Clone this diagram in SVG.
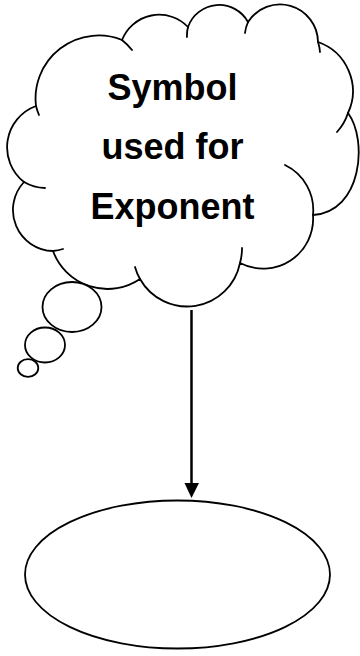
<svg xmlns="http://www.w3.org/2000/svg" width="360" height="656" viewBox="0 0 360 656">
<defs>
<style>
.ln{fill:none;stroke:#000;stroke-width:1.8;stroke-linecap:round}
.shape{fill:#fff;stroke:#000;stroke-width:1.8}
.lbl{font-family:"Liberation Sans",Arial,sans-serif;font-weight:bold;font-size:36px;fill:#000;text-anchor:middle}
</style>
<marker id="arrow" markerWidth="6" markerHeight="6" refX="6" refY="3" orient="auto" markerUnits="strokeWidth">
<path d="M0,0 L6,3 L0,6 Z" fill="#000"/>
</marker>
</defs>
<rect width="360" height="656" fill="#fff"/>
<g id="cloud">
<path class="shape" d="M36,106 A63,63 0 0 1 122,40 A40,40 0 0 1 188,27 A33,33 0 0 1 248,22 A38,38 0 0 1 318,42 A52,52 0 0 1 348,113 C368,140 362,212 313,215 A50,50 0 0 1 240,263 A54,54 0 0 1 140,279 A58,58 0 0 1 53,251 A41,41 0 0 1 24,182 A44,44 0 0 1 36,106 Z"/>
<path class="ln" d="M39,115 A63,63 0 0 1 36,106 M122,40 A63,63 0 0 1 132,50 M187,37 A33,33 0 0 1 188,27 M245,33 A38,38 0 0 1 248,22 M318,42 A38,38 0 0 1 320,52 M348,113 A52,52 0 0 1 337,132 M285,165 A50,50 0 0 1 313,215 M242,248 A54,54 0 0 1 240,263 M140,279 A54,54 0 0 1 135,267 M63,249 A41,41 0 0 1 53,251 M45,188 A44,44 0 0 1 24,182"/>
<ellipse class="shape" cx="72" cy="307" rx="29.5" ry="25"/>
<ellipse class="shape" cx="45" cy="345" rx="20" ry="17.5"/>
<ellipse class="shape" cx="28" cy="368" rx="10.3" ry="8.8"/>
<text class="lbl" x="172.5" y="100">Symbol</text>
<text class="lbl" x="172.5" y="158.5">used for</text>
<text class="lbl" x="172.5" y="218.5">Exponent</text>
</g>
<g id="connectors">
<line x1="191.5" y1="310" x2="191.5" y2="484" stroke="#000" stroke-width="2.5"/>
<path d="M184.5,483 L199,483 L191.5,498 Z" fill="#000"/>
</g>
<g id="answer">
<ellipse class="shape" cx="177.5" cy="574.5" rx="152.5" ry="74"/>
</g>
</svg>
